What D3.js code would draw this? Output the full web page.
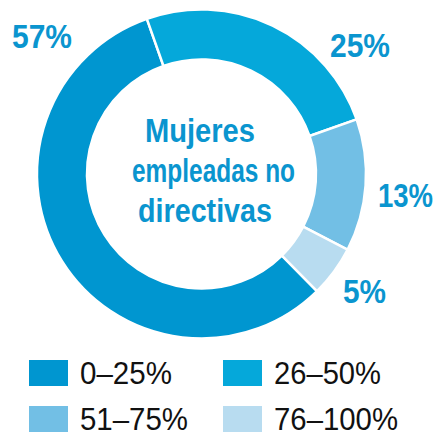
<!DOCTYPE html>
<html>
<head>
<meta charset="utf-8">
<script src="https://cdn.jsdelivr.net/npm/d3@7"></script>
<style>
  html, body { margin: 0; padding: 0; background: #fff; }
  svg { display: block; }
  text { font-family: "Liberation Sans", Arial, sans-serif; }
</style>
</head>
<body>
<svg id="chart" width="439" height="432"></svg>
<script>
const categories = ["0–25%", "26–50%", "51–75%", "76–100%"];
const values = [57, 25, 13, 5];
const valueLabels = ["57%", "25%", "13%", "5%"];
const colors = ["#0096D0", "#05A8DA", "#72BFE5", "#B8DCF0"];
const centerLines = ["Mujeres", "empleadas no", "directivas"];

const svg = d3.select("#chart");
const cx = 201.5, cy = 174, rOuter = 164.5, rInner = 114.5;
const labelColor = "#0A95CF";

const pie = d3.pie().sort(null).value(d => d)
  .startAngle(135.4 * Math.PI / 180)
  .endAngle((135.4 + 360) * Math.PI / 180);
const arc = d3.arc().innerRadius(rInner).outerRadius(rOuter);
const arcs = pie(values);

const g = svg.append("g").attr("transform", `translate(${cx},${cy})`);
g.selectAll("path").data(arcs).enter().append("path")
  .attr("d", arc)
  .attr("fill", (d, i) => colors[i])
  .attr("stroke", "#fff")
  .attr("stroke-width", 2.5);

// value labels: [left x, baseline y, width]
const labelPos = [[12, 48, 60], [330, 57, 60], [378, 207, 55], [343, 303, 43]];
svg.selectAll("text.val").data(valueLabels).enter().append("text")
  .attr("class", "val")
  .attr("x", (d, i) => labelPos[i][0])
  .attr("y", (d, i) => labelPos[i][1])
  .attr("textLength", (d, i) => labelPos[i][2])
  .attr("lengthAdjust", "spacingAndGlyphs")
  .attr("font-weight", "bold")
  .attr("font-size", 33)
  .attr("fill", labelColor)
  .text(d => d);

// center text
const centerPos = [[145, 142, 110], [132, 182, 163], [138, 222, 134]];
svg.selectAll("text.ctr").data(centerLines).enter().append("text")
  .attr("class", "ctr")
  .attr("x", (d, i) => centerPos[i][0])
  .attr("y", (d, i) => centerPos[i][1])
  .attr("textLength", (d, i) => centerPos[i][2])
  .attr("lengthAdjust", "spacingAndGlyphs")
  .attr("font-weight", "bold")
  .attr("font-size", 33)
  .attr("fill", labelColor)
  .text(d => d);

// legend
const legPos = [[29, 360], [223, 360], [29, 406], [223, 406]];
const legW = [92, 107, 108, 124];
const leg = svg.selectAll("g.leg").data(categories).enter().append("g")
  .attr("class", "leg")
  .attr("transform", (d, i) => `translate(${legPos[i][0]},${legPos[i][1]})`);
leg.append("rect").attr("width", 39).attr("height", 26)
  .attr("fill", (d, i) => colors[i]);
leg.append("text").attr("x", 51).attr("y", 24)
  .attr("textLength", (d, i) => legW[i])
  .attr("lengthAdjust", "spacingAndGlyphs")
  .attr("font-size", 31)
  .attr("fill", "#111")
  .text(d => d);
</script>
</body>
</html>
